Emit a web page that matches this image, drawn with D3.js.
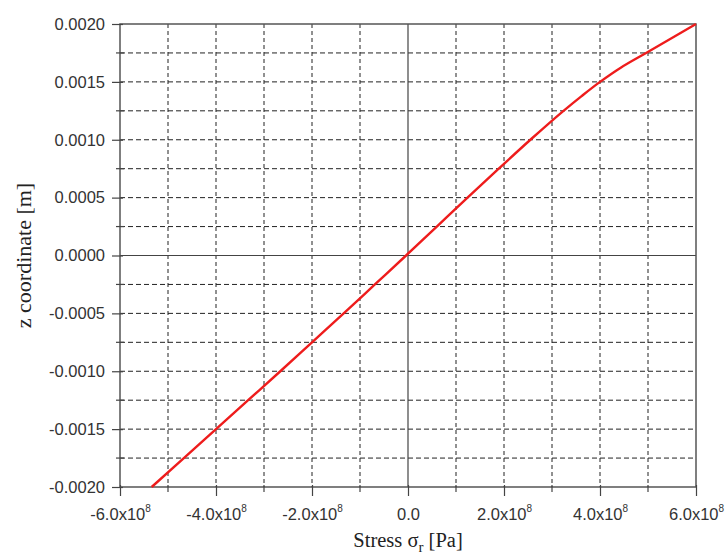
<!DOCTYPE html>
<html>
<head>
<meta charset="utf-8">
<script src="https://cdn.jsdelivr.net/npm/d3@7"></script>
<style>
  html, body { margin: 0; padding: 0; background: #fff; }
  svg { display: block; }
</style>
</head>
<body>
<svg id="chart" width="727" height="558"></svg>
<script>
// Radial stress through the thickness (z) of the plate
const zCoord = [-0.002, -0.00175, -0.0015, -0.00125, -0.001, -0.00075, -0.0005, -0.00025,
                0, 0.00025, 0.0005, 0.00075, 0.001, 0.00125, 0.001375, 0.0015, 0.001625, 0.00175, 0.002];
const stressR = [-5.34e8, -4.67e8, -4.0e8, -3.33e8, -2.66e8, -2.0e8, -1.34e8, -0.69e8,
                 -0.04e8, 0.6e8, 1.24e8, 1.89e8, 2.55e8, 3.24e8, 3.61e8, 4.0e8, 4.44e8, 4.96e8, 6.0e8];

const xMajorTicks = [-6e8, -4e8, -2e8, 0, 2e8, 4e8, 6e8];
const xMajorLabels = ["-6.0x10", "-4.0x10", "-2.0x10", "0.0", "2.0x10", "4.0x10", "6.0x10"];
const xMinorTicks = [-5e8, -3e8, -1e8, 1e8, 3e8, 5e8];
const yMajorTicks = [-0.002, -0.0015, -0.001, -0.0005, 0, 0.0005, 0.001, 0.0015, 0.002];
const yMajorLabels = ["-0.0020", "-0.0015", "-0.0010", "-0.0005", "0.0000", "0.0005", "0.0010", "0.0015", "0.0020"];
const yMinorTicks = [-0.00175, -0.00125, -0.00075, -0.00025, 0.00025, 0.00075, 0.00125, 0.00175];

const svg = d3.select("#chart");
const margin = {left: 120, top: 24, right: 31, bottom: 71};
const W = 727 - margin.left - margin.right;
const H = 558 - margin.top - margin.bottom;

const x = d3.scaleLinear().domain([-6e8, 6e8]).range([0, W]);
const y = d3.scaleLinear().domain([-0.002, 0.002]).range([H, 0]);

const g = svg.append("g").attr("transform", `translate(${margin.left},${margin.top})`);

// dashed grid on every major and minor tick
const gridX = xMajorTicks.concat(xMinorTicks).filter(v => v !== 0 && Math.abs(v) < 6e8);
const gridY = yMajorTicks.concat(yMinorTicks).filter(v => v !== 0 && Math.abs(v) < 0.002);

g.selectAll(".gx").data(gridX).join("line")
  .attr("x1", d => x(d)).attr("x2", d => x(d))
  .attr("y1", 0).attr("y2", H)
  .attr("stroke", "#222").attr("stroke-width", 1)
  .attr("stroke-dasharray", "4,3");

g.selectAll(".gy").data(gridY).join("line")
  .attr("x1", 0).attr("x2", W)
  .attr("y1", d => y(d)).attr("y2", d => y(d))
  .attr("stroke", "#222").attr("stroke-width", 1)
  .attr("stroke-dasharray", "5,3");

// solid zero lines
g.append("line").attr("x1", x(0)).attr("x2", x(0)).attr("y1", 0).attr("y2", H)
  .attr("stroke", "#444").attr("stroke-width", 1.2);
g.append("line").attr("x1", 0).attr("x2", W).attr("y1", y(0)).attr("y2", y(0))
  .attr("stroke", "#444").attr("stroke-width", 1.2);

// frame
g.append("rect").attr("x", 0).attr("y", 0).attr("width", W).attr("height", H)
  .attr("fill", "none").attr("stroke", "#555").attr("stroke-width", 1.5);

// bottom axis
const xAxis = d3.axisBottom(x).tickValues(xMajorTicks).tickSize(9).tickFormat(() => "");
const xAx = g.append("g").attr("transform", `translate(0,${H})`).call(xAxis);
xAx.select(".domain").remove();
xAx.selectAll(".tick line").attr("stroke", "#444").attr("stroke-width", 1.2).attr("y1", -2);
xAx.selectAll(".tick").each(function(d, i) {
  const t = d3.select(this).append("text")
    .attr("y", 33).attr("fill", "#333")
    .attr("font-family", "Liberation Sans, Arial, sans-serif")
    .attr("font-size", 16.5).attr("text-anchor", "middle");
  t.append("tspan").text(xMajorLabels[i]);
  if (d !== 0) {
    t.append("tspan").text("8").attr("font-size", 10).attr("dy", -8);
  }
});
g.selectAll(".xminor").data(xMinorTicks).join("line")
  .attr("x1", d => x(d)).attr("x2", d => x(d))
  .attr("y1", H - 2).attr("y2", H + 5)
  .attr("stroke", "#444").attr("stroke-width", 1.2);

// left axis
const yAxis = d3.axisLeft(y).tickValues(yMajorTicks).tickSize(8).tickFormat((d, i) => yMajorLabels[i]);
const yAx = g.append("g").call(yAxis);
yAx.select(".domain").remove();
yAx.selectAll(".tick line").attr("stroke", "#444").attr("stroke-width", 1.2).attr("x1", 3);
yAx.selectAll(".tick text")
  .attr("x", -15).attr("fill", "#333")
  .attr("font-family", "Liberation Sans, Arial, sans-serif")
  .attr("font-size", 16.5);
g.selectAll(".yminor").data(yMinorTicks).join("line")
  .attr("x1", -4).attr("x2", 4)
  .attr("y1", d => y(d)).attr("y2", d => y(d))
  .attr("stroke", "#444").attr("stroke-width", 1.2);

// stress curve
const pts = zCoord.map((z, i) => [stressR[i], z]);
g.append("path").datum(pts)
  .attr("fill", "none").attr("stroke", "#ee1c1c").attr("stroke-width", 2.4)
  .attr("stroke-linejoin", "round")
  .attr("d", d3.line().x(d => x(d[0])).y(d => y(d[1])).curve(d3.curveMonotoneY));

// axis titles
const xt = svg.append("text")
  .attr("x", margin.left + x(0)).attr("y", 547)
  .attr("text-anchor", "middle").attr("fill", "#222")
  .attr("font-family", "Liberation Serif, Times New Roman, serif").attr("font-size", 20.5);
xt.append("tspan").text("Stress σ");
xt.append("tspan").text("r").attr("font-size", 15).attr("dy", 5);
xt.append("tspan").text(" [Pa]").attr("dy", -5);

svg.append("text")
  .attr("transform", `translate(31,${margin.top + y(0)}) rotate(-90)`)
  .attr("text-anchor", "middle").attr("fill", "#222")
  .attr("font-family", "Liberation Serif, Times New Roman, serif").attr("font-size", 22)
  .text("z coordinate [m]");
</script>
</body>
</html>
